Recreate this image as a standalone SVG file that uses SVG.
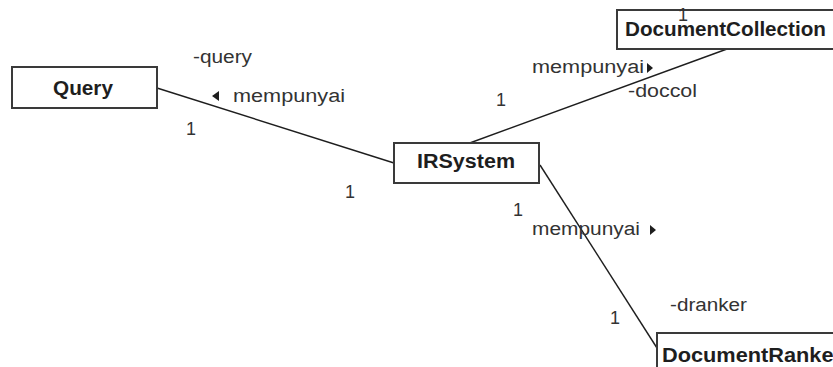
<svg xmlns="http://www.w3.org/2000/svg" width="833" height="367" viewBox="0 0 833 367">
  <style>
    .box { fill: #ffffff; stroke: #3a3a3a; stroke-width: 2; }
    .name { font-family: "Liberation Sans", Arial, sans-serif; font-weight: bold; font-size: 20px; fill: #1e1e1e; }
    .lbl { font-family: "Liberation Sans", Arial, sans-serif; font-size: 18px; fill: #333333; }
    .assoc { stroke: #1e1e1e; stroke-width: 1.4; fill: none; }
    .dir { fill: #1e1e1e; }
  </style>
  <rect width="833" height="367" fill="#ffffff"/>

  <!-- associations -->
  <g id="connectors">
    <line class="assoc" x1="157" y1="88" x2="394" y2="163"/>
    <line class="assoc" x1="467" y1="144" x2="727" y2="49"/>
    <line class="assoc" x1="540" y1="165" x2="657" y2="348"/>
  </g>

  <!-- association end labels and names -->
  <g id="labels">
    <text class="lbl" x="193" y="63" textLength="59" lengthAdjust="spacingAndGlyphs">-query</text>
    <polygon class="dir" points="212,96 219,91 219,101"/>
    <text class="lbl" x="233" y="102" textLength="112" lengthAdjust="spacingAndGlyphs">mempunyai</text>
    <text class="lbl" x="186" y="135">1</text>
    <text class="lbl" x="345" y="198">1</text>

    <text class="lbl" x="496" y="106">1</text>
    <text class="lbl" x="532" y="73" textLength="112" lengthAdjust="spacingAndGlyphs">mempunyai</text>
    <polygon class="dir" points="653,68 647,63 647,73"/>
    <text class="lbl" x="628" y="97" textLength="69" lengthAdjust="spacingAndGlyphs">-doccol</text>

    <text class="lbl" x="513" y="216">1</text>
    <text class="lbl" x="532" y="235" textLength="108" lengthAdjust="spacingAndGlyphs">mempunyai</text>
    <polygon class="dir" points="656,230 650,225 650,235"/>
    <text class="lbl" x="670" y="311" textLength="77" lengthAdjust="spacingAndGlyphs">-dranker</text>
    <text class="lbl" x="610" y="324">1</text>
  </g>

  <g id="Query">
    <rect class="box" x="12" y="67" width="145" height="41"/>
    <text class="name" x="53" y="95" textLength="60" lengthAdjust="spacingAndGlyphs">Query</text>
  </g>

  <g id="IRSystem">
    <rect class="box" x="394" y="143" width="145" height="40"/>
    <text class="name" x="417" y="168" textLength="98" lengthAdjust="spacingAndGlyphs">IRSystem</text>
  </g>

  <g id="DocumentCollection">
    <rect class="box" x="617" y="10" width="230" height="39"/>
    <text class="name" x="625" y="36" textLength="201" lengthAdjust="spacingAndGlyphs">DocumentCollection</text>
    <text class="lbl" x="678" y="21" font-size="14">1</text>
  </g>

  <g id="DocumentRanker">
    <rect class="box" x="657" y="333" width="200" height="50"/>
    <text class="name" x="662" y="362" textLength="180" lengthAdjust="spacingAndGlyphs">DocumentRanker</text>
  </g>
</svg>
